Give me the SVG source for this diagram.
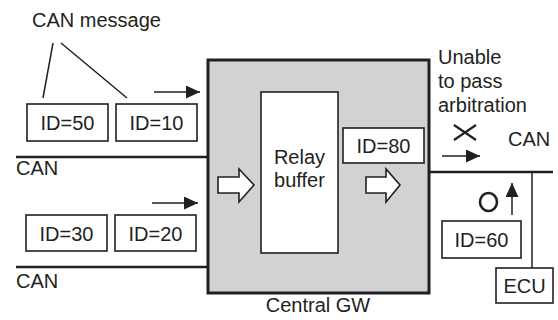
<svg xmlns="http://www.w3.org/2000/svg" width="558" height="320" viewBox="0 0 558 320">
<style>
text{font-family:"Liberation Sans",Arial,sans-serif;font-size:20px;fill:#231f20}
.box{fill:#fff;stroke:#231f20;stroke-width:1.6}
.ln{stroke:#231f20;stroke-width:1.5;fill:none}
.bus{stroke:#231f20;stroke-width:2.6;fill:none}
.hol{fill:#fff;stroke:#231f20;stroke-width:1.6;stroke-linejoin:miter}
.c{text-anchor:middle}
</style>
<defs>
<marker id="ah" markerWidth="14" markerHeight="13" refX="14" refY="6.5" orient="auto" markerUnits="userSpaceOnUse">
<path d="M0,0 L14,6.5 L0,13 Z" fill="#231f20"/>
</marker>
</defs>
<g id="central-gw">
<rect x="208" y="60" width="221" height="233" fill="#d1d2d4" stroke="#231f20" stroke-width="3"/>
<text class="c" x="318" y="312">Central GW</text>
</g>
<g id="relay-buffer">
<rect x="261" y="92" width="77" height="161" class="box" stroke-width="2"/>
<text class="c" x="299.5" y="164">Relay</text>
<text class="c" x="299.5" y="187">buffer</text>
</g>
<g id="in-arrow">
<path class="hol" d="M218,177 H239 V169 L254,185 L239,202 V193 H218 Z"/>
</g>
<g id="out-arrow">
<path class="hol" d="M366,177 H386 V169 L400,185 L386,202 V193 H366 Z"/>
</g>
<g id="id80">
<rect x="343" y="128" width="81" height="35" class="box"/>
<text class="c" x="383.5" y="153">ID=80</text>
</g>
<g id="id50">
<rect x="27" y="104" width="81" height="37" class="box"/>
<text class="c" x="67.5" y="130">ID=50</text>
</g>
<g id="id10">
<rect x="116" y="104" width="81" height="37" class="box"/>
<text class="c" x="156.5" y="130">ID=10</text>
</g>
<g id="id30">
<rect x="26" y="215" width="81" height="36" class="box"/>
<text class="c" x="66.5" y="241">ID=30</text>
</g>
<g id="id20">
<rect x="115" y="215" width="81" height="36" class="box"/>
<text class="c" x="155.5" y="241">ID=20</text>
</g>
<g id="id60">
<rect x="442" y="221" width="79" height="37" class="box"/>
<text class="c" x="481.5" y="247">ID=60</text>
</g>
<g id="ecu">
<rect x="496" y="268" width="57" height="35" class="box"/>
<text class="c" x="524.5" y="293">ECU</text>
</g>
<g id="labels">
<text x="32" y="27">CAN message</text>
<text x="16" y="175">CAN</text>
<text x="16" y="288">CAN</text>
<text x="508" y="146">CAN</text>
<text x="438" y="64">Unable</text>
<text x="438" y="88">to pass</text>
<text x="438" y="112">arbitration</text>
</g>
<g id="connectors">
<line class="ln" x1="53" y1="43" x2="43" y2="98"/>
<line class="ln" x1="61" y1="43" x2="127" y2="98"/>
<line class="bus" x1="16" y1="157" x2="208" y2="157"/>
<line class="bus" x1="16" y1="267" x2="208" y2="267"/>
<line class="bus" x1="429" y1="172" x2="553" y2="172"/>
<line class="ln" x1="532" y1="172" x2="532" y2="268"/>
<line class="ln" x1="154" y1="92" x2="200" y2="92" marker-end="url(#ah)"/>
<line class="ln" x1="152" y1="203" x2="198" y2="203" marker-end="url(#ah)"/>
<line class="ln" x1="442" y1="156" x2="480" y2="156" marker-end="url(#ah)"/>
<line class="ln" x1="512" y1="215" x2="512" y2="183" marker-end="url(#ah)"/>
<path d="M454,125 L476,140 M454,140 L476,125" stroke="#231f20" stroke-width="2.2" fill="none"/>
<ellipse cx="488.5" cy="202" rx="8.5" ry="9" fill="none" stroke="#231f20" stroke-width="2.6"/>
</g>
</svg>
